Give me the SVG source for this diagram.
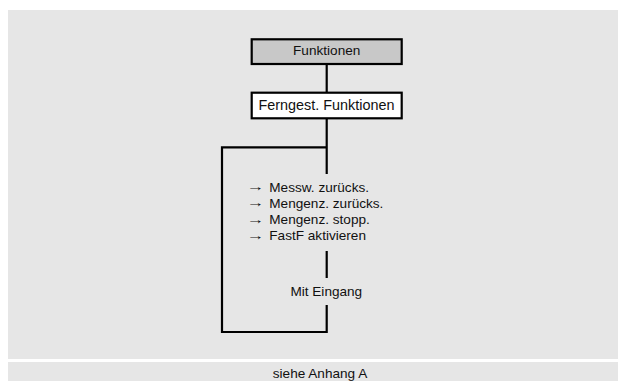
<svg xmlns="http://www.w3.org/2000/svg" width="618" height="381" viewBox="0 0 618 381">
<style>
.t{font-family:"Liberation Sans",Arial,sans-serif;font-size:13.6px;fill:#111}
.c{text-anchor:middle}
.box{stroke:#000;stroke-width:2.2}
.ln{stroke:#000;stroke-width:2.2;fill:none}
</style>
<rect x="0" y="0" width="618" height="381" fill="#fff"/>
<rect x="8" y="10" width="610" height="349" fill="#e6e6e6"/>
<rect x="8" y="362" width="610" height="19" fill="#e6e6e6"/>
<g id="connectors">
<line class="ln" x1="326.7" y1="64" x2="326.7" y2="92.7"/>
<line class="ln" x1="326.7" y1="118.3" x2="326.7" y2="174"/>
<polyline class="ln" points="326.7,147.3 222,147.3 222,332 326.7,332 326.7,305"/>
<line class="ln" x1="326.7" y1="251" x2="326.7" y2="278"/>
</g>
<g id="funktionen">
<rect class="box" x="251.7" y="39.3" width="150" height="24.7" fill="#c8c8c8"/>
<text class="t c" x="326.7" y="55">Funktionen</text>
</g>
<g id="ferngest">
<rect class="box" x="251.7" y="92.7" width="150" height="25.6" fill="#fff"/>
<text class="t c" x="326.5" y="110" style="font-size:14.4px">Ferngest. Funktionen</text>
</g>
<g id="liste">
<text class="t" transform="translate(246.5,191.2) scale(1.3,1)">→</text>
<text class="t" x="269.3" y="191.7">Messw. zurücks.</text>
<text class="t" transform="translate(246.5,207.2) scale(1.3,1)">→</text>
<text class="t" x="269.3" y="207.7">Mengenz. zurücks.</text>
<text class="t" transform="translate(246.5,223.8) scale(1.3,1)">→</text>
<text class="t" x="269.3" y="224.3">Mengenz. stopp.</text>
<text class="t" transform="translate(246.5,239.5) scale(1.3,1)">→</text>
<text class="t" x="269.3" y="240">FastF aktivieren</text>
</g>
<g id="eingang">
<text class="t c" x="326.3" y="296">Mit Eingang</text>
</g>
<g id="footer">
<text class="t c" x="320" y="378">siehe Anhang A</text>
</g>
</svg>
